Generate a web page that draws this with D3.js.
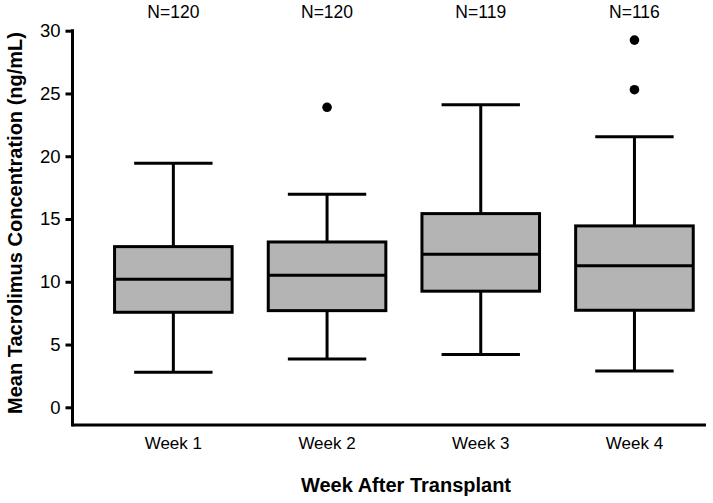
<!DOCTYPE html>
<html>
<head>
<meta charset="utf-8">
<script src="https://cdn.jsdelivr.net/npm/d3@7"></script>
<style>
  html, body { margin: 0; padding: 0; background: #fff; }
  svg text { font-family: "Liberation Sans", Arial, sans-serif; fill: #000; }
</style>
</head>
<body>
<svg id="chart" width="713" height="503"></svg>
<script>
const categories = ["Week 1", "Week 2", "Week 3", "Week 4"];
const nLabels = ["N=120", "N=120", "N=119", "N=116"];
const whiskerLow = [2.8, 3.85, 4.2, 2.9];
const q1 = [7.57, 7.7, 9.25, 7.73];
const median = [10.2, 10.52, 12.2, 11.28];
const q3 = [12.8, 13.17, 15.43, 14.45];
const whiskerHigh = [19.45, 16.97, 24.1, 21.55];
const outliers = [[], [23.9], [], [25.3, 29.25]];
const yTicks = [0, 5, 10, 15, 20, 25, 30];

const svg = d3.select("#chart");
const axisX = 72.5, axisY = 425, axisRight = 706;

const x = d3.scaleBand().domain(categories).range([96.5, 711.3]).padding(0);
const y = d3.scaleLinear().domain([0, 30]).range([407.3, 30.7]);

const boxW = x.bandwidth() * 0.765;
const capW = x.bandwidth() * 0.51;
const sw = 3;

// Y axis
const yAxis = d3.axisLeft(y).tickValues(yTicks).tickSize(7).tickPadding(5).tickSizeOuter(0);
const gy = svg.append("g").attr("transform", `translate(${axisX},0)`).call(yAxis);
gy.select(".domain").remove();
gy.selectAll(".tick line").attr("stroke", "#000").attr("stroke-width", sw);
gy.selectAll(".tick text").attr("font-size", 18.5).attr("font-family", "Liberation Sans, Arial, sans-serif").attr("fill", "#000");
svg.append("line").attr("x1", axisX).attr("x2", axisX).attr("y1", y(30) - 1.5).attr("y2", axisY + 1.5)
  .attr("stroke", "#000").attr("stroke-width", sw);

// X axis line
svg.append("line").attr("x1", axisX).attr("x2", axisRight).attr("y1", axisY).attr("y2", axisY)
  .attr("stroke", "#000").attr("stroke-width", sw);

// Category labels
svg.append("g").selectAll("text").data(categories).join("text")
  .attr("x", d => x(d) + x.bandwidth() / 2).attr("y", 449)
  .attr("text-anchor", "middle").attr("font-size", 17).text(d => d);

// N labels
svg.append("g").selectAll("text").data(nLabels).join("text")
  .attr("x", (d, i) => x(categories[i]) + x.bandwidth() / 2).attr("y", 17.5)
  .attr("text-anchor", "middle").attr("font-size", 17.5).text(d => d);

// Boxes
const g = svg.append("g").selectAll("g").data(categories).join("g")
  .attr("transform", d => `translate(${x(d) + x.bandwidth() / 2},0)`);

g.append("line").attr("x1", 0).attr("x2", 0)
  .attr("y1", (d, i) => y(whiskerLow[i])).attr("y2", (d, i) => y(whiskerHigh[i]))
  .attr("stroke", "#000").attr("stroke-width", sw);
g.append("line").attr("x1", -capW / 2).attr("x2", capW / 2)
  .attr("y1", (d, i) => y(whiskerLow[i])).attr("y2", (d, i) => y(whiskerLow[i]))
  .attr("stroke", "#000").attr("stroke-width", sw);
g.append("line").attr("x1", -capW / 2).attr("x2", capW / 2)
  .attr("y1", (d, i) => y(whiskerHigh[i])).attr("y2", (d, i) => y(whiskerHigh[i]))
  .attr("stroke", "#000").attr("stroke-width", sw);
g.append("rect").attr("x", -boxW / 2).attr("width", boxW)
  .attr("y", (d, i) => y(q3[i])).attr("height", (d, i) => y(q1[i]) - y(q3[i]))
  .attr("fill", "#b4b4b4").attr("stroke", "#000").attr("stroke-width", sw);
g.append("line").attr("x1", -boxW / 2).attr("x2", boxW / 2)
  .attr("y1", (d, i) => y(median[i])).attr("y2", (d, i) => y(median[i]))
  .attr("stroke", "#000").attr("stroke-width", sw);
g.selectAll("circle").data((d, i) => outliers[i]).join("circle")
  .attr("cx", 0).attr("cy", v => y(v)).attr("r", 4.8).attr("fill", "#000");

// Axis titles
svg.append("text").attr("x", 406).attr("y", 492).attr("text-anchor", "middle")
  .attr("font-size", 20).attr("font-weight", "bold").text("Week After Transplant");
svg.append("text").attr("transform", "translate(21.5,223) rotate(-90)").attr("text-anchor", "middle")
  .attr("font-size", 20).attr("font-weight", "bold").text("Mean Tacrolimus Concentration (ng/mL)");
</script>
</body>
</html>
